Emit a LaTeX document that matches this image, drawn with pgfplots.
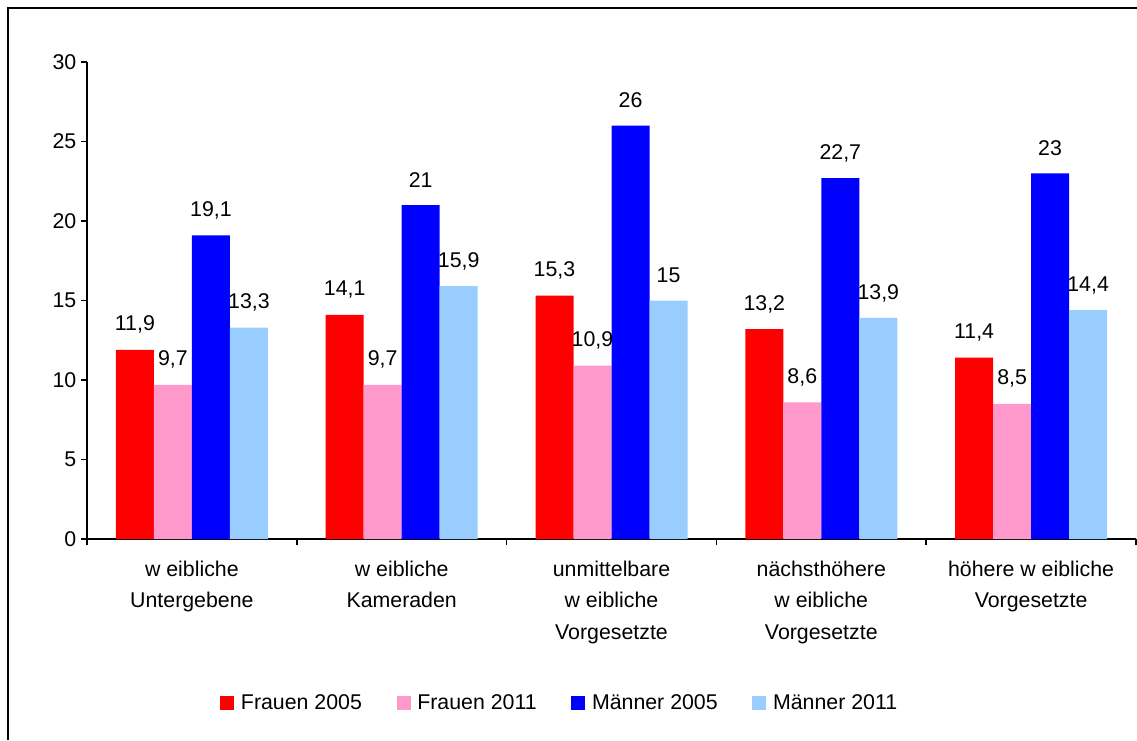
\documentclass[border=0pt]{standalone}
\usepackage{fontspec}
\setmainfont{Liberation Sans}
\usepackage{pgfplots}
\pgfplotsset{compat=1.18}
\definecolor{cF05}{RGB}{255,0,0}
\definecolor{cF11}{RGB}{255,153,204}
\definecolor{cM05}{RGB}{0,0,255}
\definecolor{cM11}{RGB}{153,204,255}
\newcommand{\fs}{\fontsize{16}{23.5}\selectfont}
\begin{document}
\begin{tikzpicture}
\useasboundingbox (0,0) rectangle (852.75pt,555pt);
\draw[line width=1.5pt] (6.2pt,0) -- (6.2pt,548.9pt) -- (852.75pt,548.9pt);
\begin{axis}[
 at={(65.25pt,150.75pt)}, anchor=south west,
 scale only axis, width=786.75pt, height=357.75pt,
 ybar=0pt, bar width=28.5pt,
 xmin=-0.5, xmax=4.5, ymin=0, ymax=30,
 ytick={0,5,...,30},
 xtick={-0.5,0.5,1.5,2.5,3.5,4.5},
 xticklabels={},
 extra x ticks={0,1,2,3,4},
 extra x tick labels={{w eibliche\\Untergebene},{w eibliche\\Kameraden},{unmittelbare\\w eibliche\\Vorgesetzte},{nächsthöhere\\w eibliche\\Vorgesetzte},{höhere w eibliche\\Vorgesetzte}},
 extra x tick style={major tick length=0pt, xticklabel style={align=center, anchor=north, yshift=-13pt}},
 axis x line=bottom, axis y line=left,
 axis line style={-, line width=1.1pt, black},
 tick align=outside, major tick length=4.5pt,
 tick style={black, line width=1.1pt},
 /pgf/number format/assume math mode=true,
 /pgf/number format/use comma,
 tick label style={font=\fs},
 nodes near coords,
 every node near coord/.append style={font=\fs, text=black, anchor=center, yshift=18.75pt},
 legend columns=4,
 legend style={draw=none, at={(0.451,-0.344)}, anchor=center, font=\fs,
   /tikz/every even column/.append style={column sep=24pt}},
 legend image code/.code={\fill[#1] (0pt,-5.25pt) rectangle (10.5pt,5.25pt); \path (13.5pt,0pt);},
]
\addplot[fill=cF05, draw=none] coordinates {(0,11.9) (1,14.1) (2,15.3) (3,13.2) (4,11.4)};
\addplot[fill=cF11, draw=none] coordinates {(0,9.7) (1,9.7) (2,10.9) (3,8.6) (4,8.5)};
\addplot[fill=cM05, draw=none] coordinates {(0,19.1) (1,21) (2,26) (3,22.7) (4,23)};
\addplot[fill=cM11, draw=none] coordinates {(0,13.3) (1,15.9) (2,15) (3,13.9) (4,14.4)};
\legend{Frauen 2005, Frauen 2011, Männer 2005, Männer 2011}
\end{axis}
\end{tikzpicture}
\end{document}
